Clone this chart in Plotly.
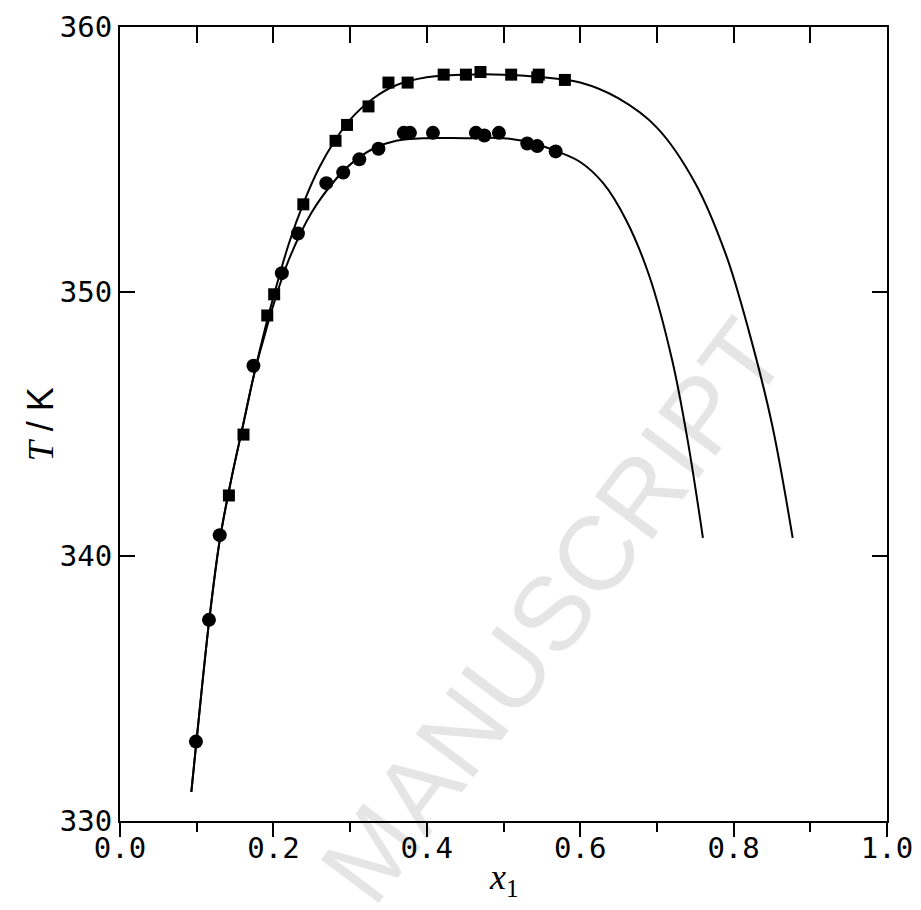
import plotly.graph_objects as go

# ---- data ----
sq_x = [0.142, 0.161, 0.192, 0.201, 0.239, 0.281, 0.296, 0.324, 0.350, 0.375,
        0.422, 0.451, 0.470, 0.510, 0.544, 0.546, 0.580]
sq_T = [342.3, 344.6, 349.1, 349.9, 353.3, 355.7, 356.3, 357.0, 357.9, 357.9,
        358.2, 358.2, 358.3, 358.2, 358.1, 358.2, 358.0]

ci_x = [0.099, 0.116, 0.130, 0.174, 0.211, 0.232, 0.269, 0.291, 0.312, 0.337,
        0.370, 0.378, 0.408, 0.464, 0.475, 0.494, 0.531, 0.544, 0.568]
ci_T = [333.0, 337.6, 340.8, 347.2, 350.7, 352.2, 354.1, 354.5, 355.0, 355.4,
        356.0, 356.0, 356.0, 356.0, 355.9, 356.0, 355.6, 355.5, 355.3]

up_x = [0.093, 0.10, 0.116, 0.13, 0.145, 0.16, 0.175, 0.19, 0.20, 0.22, 0.24, 0.26, 0.28, 0.30,
        0.33, 0.36, 0.40, 0.45, 0.50, 0.55, 0.60, 0.65, 0.70, 0.75, 0.79, 0.82, 0.85, 0.877]
up_T = [331.1, 333.1, 337.5, 340.6, 342.9, 344.9, 346.9, 348.7, 349.8, 351.8, 353.4, 354.7, 355.7, 356.5,
        357.3, 357.8, 358.1, 358.2, 358.2, 358.1, 357.9, 357.3, 356.2, 354.1, 351.4, 348.5, 345.0, 340.7]

lo_x = [0.093, 0.10, 0.116, 0.13, 0.145, 0.16, 0.175, 0.19, 0.20, 0.22, 0.25, 0.28, 0.30, 0.33,
        0.36, 0.40, 0.45, 0.50, 0.54, 0.57, 0.60, 0.63, 0.66, 0.69, 0.72, 0.74, 0.76]
lo_T = [331.1, 333.1, 337.5, 340.6, 342.9, 344.9, 346.9, 348.5, 349.5, 351.2, 353.0, 354.2, 354.8, 355.4,
        355.7, 355.8, 355.8, 355.8, 355.6, 355.3, 354.9, 354.1, 352.7, 350.6, 347.4, 344.4, 340.7]

x_ticks = [0.0, 0.2, 0.4, 0.6, 0.8, 1.0]
x_labels = ["0.0", "0.2", "0.4", "0.6", "0.8", "1.0"]
y_ticks = [330, 340, 350, 360]
y_labels = ["330", "340", "350", "360"]

mono = "DejaVu Sans Mono"

fig = go.Figure()
fig.add_trace(go.Scatter(x=up_x, y=up_T, mode="lines", line=dict(color="black", width=2, shape="spline", smoothing=1.0), showlegend=False))
fig.add_trace(go.Scatter(x=lo_x, y=lo_T, mode="lines", line=dict(color="black", width=2, shape="spline", smoothing=1.0), showlegend=False))
fig.add_trace(go.Scatter(x=sq_x, y=sq_T, mode="markers", marker=dict(symbol="square", size=12, color="black"), showlegend=False))
fig.add_trace(go.Scatter(x=ci_x, y=ci_T, mode="markers", marker=dict(symbol="circle", size=14, color="black"), showlegend=False))
# trace on the top axis so that it is drawn
fig.add_trace(go.Scatter(x=[0, 1], y=[330, 330], xaxis="x2", mode="lines", line=dict(width=0), hoverinfo="skip", showlegend=False))

fig.add_annotation(text="MANUSCRIPT", xref="paper", yref="paper", x=0.565, y=0.265,
                   xanchor="center", yanchor="middle",
                   showarrow=False, textangle=-53,
                   font=dict(family="Liberation Sans", size=105, color="rgba(0,0,0,0.10)"))

# axis titles
fig.add_annotation(text="<i>x</i><sub>1</sub>", xref="paper", yref="paper", x=0.5, y=-0.074,
                   xanchor="center", yanchor="middle", showarrow=False,
                   font=dict(family="Liberation Serif", size=36, color="black"))
fig.add_annotation(text="<i>T</i><span style='font-family:Liberation Sans'> / K</span>", xref="paper", yref="paper",
                   x=-0.104, y=0.5,
                   xanchor="center", yanchor="middle", showarrow=False, textangle=-90,
                   font=dict(family="Liberation Serif", size=36, color="black"))

# the page body adds an 8 px margin; size and margins are set so the frame lands at 120..887 x 27..821
fig.update_layout(
    template="none",
    width=913, height=902,
    margin=dict(l=112, r=34, t=19, b=89, pad=0),
    plot_bgcolor="white", paper_bgcolor="white",
    xaxis=dict(range=[0, 1], tickvals=x_ticks, ticktext=x_labels, ticks="outside", ticklen=14, tickwidth=2,
               tickcolor="black", showline=True, linecolor="black", linewidth=2, showgrid=False, zeroline=False,
               automargin=False, ticklabelstandoff=-14,
               minor=dict(dtick=0.1, tick0=0, ticks="outside", ticklen=9, tickwidth=2, tickcolor="black", showgrid=False),
               tickfont=dict(family=mono, size=29, color="black")),
    xaxis2=dict(range=[0, 1], overlaying="x", side="top", dtick=0.1, tick0=0, ticks="inside", ticklen=16,
                tickwidth=2, tickcolor="black", showticklabels=False, showline=True, linecolor="black",
                linewidth=2, showgrid=False, zeroline=False, automargin=False),
    yaxis=dict(range=[330, 360], tickvals=y_ticks, ticktext=y_labels, ticks="inside", ticklen=15, tickwidth=2,
               tickcolor="black", showline=True, mirror="ticks", linecolor="black", linewidth=2, showgrid=False,
               zeroline=False, automargin=False, tickfont=dict(family=mono, size=29, color="black")),
)

fig.write_html("out.html")
